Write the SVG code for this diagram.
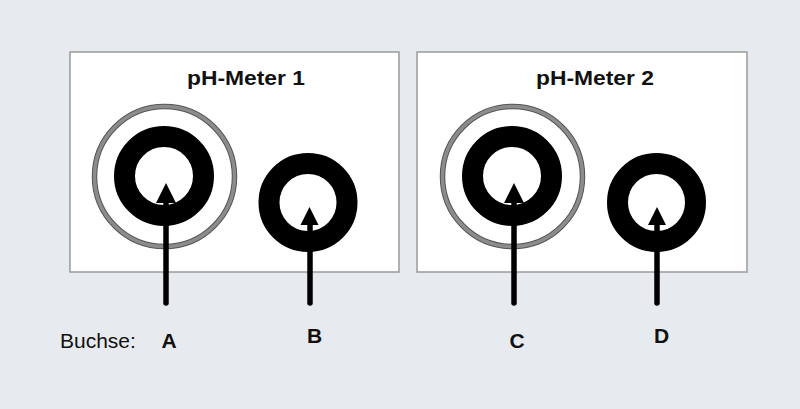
<svg xmlns="http://www.w3.org/2000/svg" width="800" height="409" viewBox="0 0 800 409">
<defs>
<style>
.box{fill:#ffffff;stroke:#9a9a9a;stroke-width:1.5}
.title{font-family:"Liberation Sans",Arial,sans-serif;font-weight:bold;font-size:21px;fill:#111;text-anchor:middle}
.ring{fill:none;stroke:#000;stroke-width:21}
.halo-dark{fill:none;stroke:#555;stroke-width:5.5}
.halo{fill:none;stroke:#8c8c8c;stroke-width:3.5}
.lead{stroke:#000;stroke-width:5.5;stroke-linecap:round;fill:none}
.head{fill:#000}
.lbl{font-family:"Liberation Sans",Arial,sans-serif;font-size:21px;fill:#111}
.lblb{font-family:"Liberation Sans",Arial,sans-serif;font-weight:bold;font-size:21px;fill:#111;text-anchor:middle}
</style>
</defs>
<rect width="800" height="409" fill="#e7ebf0"/>
<g id="meter1">
<rect class="box" x="70" y="52" width="329" height="220"/>
<text class="title" x="246" y="85" textLength="118" lengthAdjust="spacingAndGlyphs">pH-Meter 1</text>
</g>
<g id="meter2">
<rect class="box" x="417" y="52" width="330" height="220"/>
<text class="title" x="595" y="85" textLength="118" lengthAdjust="spacingAndGlyphs">pH-Meter 2</text>
</g>
<g id="socketA">
<circle class="halo-dark" cx="164.5" cy="176.5" r="70"/>
<circle class="halo" cx="164.5" cy="176.5" r="70"/>
<circle class="ring" cx="164" cy="176" r="39.5"/>
</g>
<g id="socketB">
<circle class="ring" cx="308" cy="202.5" r="39"/>
</g>
<g id="socketC">
<circle class="halo-dark" cx="512.5" cy="176.5" r="70"/>
<circle class="halo" cx="512.5" cy="176.5" r="70"/>
<circle class="ring" cx="512" cy="176" r="39.5"/>
</g>
<g id="socketD">
<circle class="ring" cx="656.5" cy="202.5" r="39"/>
</g>
<g id="connectors">
<line class="lead" x1="166" y1="200" x2="166" y2="303"/>
<polygon class="head" points="166,183 176,203 156,203"/>
<line class="lead" x1="310" y1="222" x2="310" y2="303"/>
<polygon class="head" points="309.5,207 318.5,225 300.5,225"/>
<line class="lead" x1="514" y1="200" x2="514" y2="303"/>
<polygon class="head" points="514,183 524,203 504,203"/>
<line class="lead" x1="657" y1="222" x2="657" y2="303"/>
<polygon class="head" points="657,207 666,225 648,225"/>
</g>
<g id="labels">
<text class="lbl" x="60" y="348">Buchse:</text>
<text class="lblb" x="169" y="348">A</text>
<text class="lblb" x="314.5" y="343">B</text>
<text class="lblb" x="517" y="348">C</text>
<text class="lblb" x="661.5" y="343">D</text>
</g>
</svg>
